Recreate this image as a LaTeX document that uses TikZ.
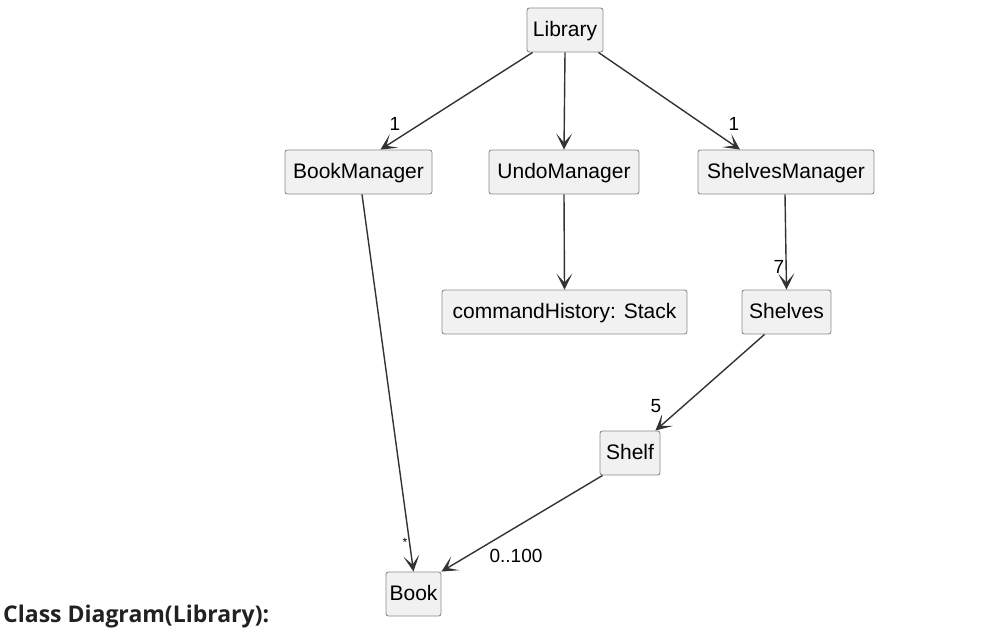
\documentclass[tikz,border=0pt]{standalone}
\usepackage{fontspec}
\setmainfont{Liberation Sans}
\newfontfamily\capfont{Open Sans}
\usetikzlibrary{arrows.meta,calc}
\definecolor{boxfill}{HTML}{F1F1F1}
\definecolor{boxline}{HTML}{8C8C8C}
\definecolor{edgecol}{HTML}{333333}
\tikzset{
  cls/.style={draw=boxline, fill=boxfill, rounded corners=2.5pt, line width=0.9pt,
    inner sep=0pt, minimum height=44pt, text height=15pt, text depth=2pt,
    font=\fontsize{21}{25}\selectfont, text=black},
  assoc/.style={draw=edgecol, line width=1.4pt,
    -{Stealth[length=16pt,width=16pt,inset=9pt]}},
  mult/.style={font=\fontsize{19}{23}\selectfont, text=black, inner sep=0pt}
}
\begin{document}
\begin{tikzpicture}[x=1pt,y=-1pt]
\useasboundingbox (0,0) rectangle (995,639);
\node[cls, minimum width=76pt]  (lib)  at (565,30)    {Library};
\node[cls, minimum width=147pt] (bm)   at (358.5,172) {BookManager};
\node[cls, minimum width=150pt] (um)   at (564,172)   {UndoManager};
\node[cls, minimum width=176pt] (sm)   at (786,172)   {ShelvesManager};
\node[cls, minimum width=245pt] (ch)   at (564.5,312) {commandHistory: Stack};
\node[cls, minimum width=89pt]  (shs)  at (786.5,312) {Shelves};
\node[cls, minimum width=60pt]  (shf)  at (630,453)   {Shelf};
\node[cls, minimum width=55pt]  (book) at (413.5,594) {Book};

\draw[assoc] ([xshift=6pt]lib.south west) -- ([xshift=22pt]bm.north);
\draw[assoc] (lib.south) -- (um.north);
\draw[assoc] ([xshift=-5pt]lib.south east) -- ([xshift=-46pt]sm.north);
\draw[assoc] ([xshift=3.5pt]bm.south) -- (book.north);
\draw[assoc] (um.south) -- (ch.north);
\draw[assoc] ([xshift=-1pt]sm.south) -- (shs.north);
\draw[assoc] ([xshift=-22pt]shs.south) -- ([xshift=-5pt]shf.north east);
\draw[assoc] ([xshift=3pt]shf.south west) -- (book.north east);

\node[mult] (m1) at (395,124) {1};
\node[mult] (m2) at (734,124) {1};
\node[mult] (m3) at (779,267) {7};
\node[mult] (m4) at (656,406) {5};
\node[mult] (m5) at (516,556) {0..100};
\node[mult, font=\fontsize{12}{14}\selectfont] (m6) at (405,542) {*};

\node[anchor=west, inner sep=0pt, text=black!87,
  font=\capfont\bfseries\fontsize{23}{27}\selectfont] (cap) at (3,617) {Class Diagram(Library):};
\end{tikzpicture}
\end{document}
